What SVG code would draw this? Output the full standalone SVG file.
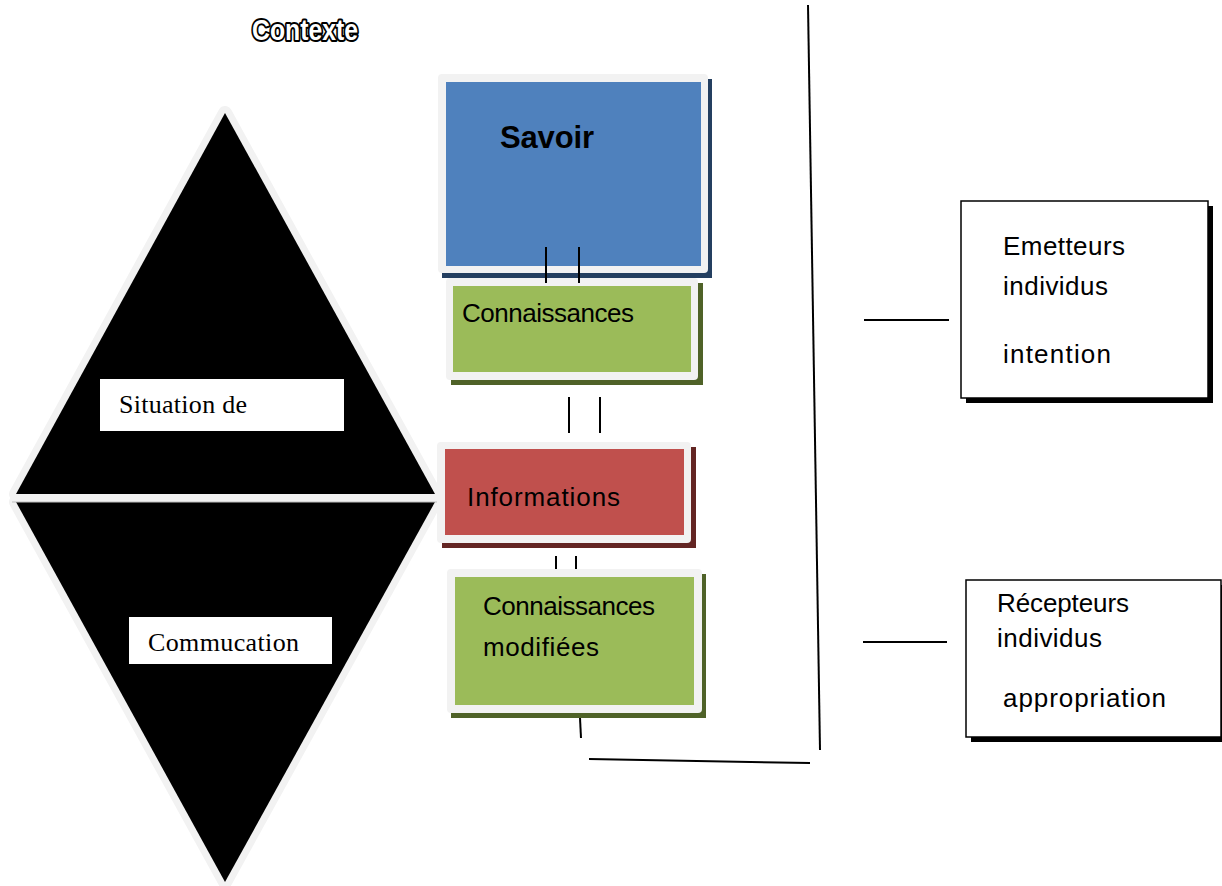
<svg xmlns="http://www.w3.org/2000/svg" width="1222" height="886" viewBox="0 0 1222 886">
<style>
.cal{font-family:"Liberation Sans",Arial,sans-serif;font-size:26px;fill:#000}
.tim{font-family:"Liberation Serif","Times New Roman",serif;font-size:26px;fill:#000}
.frame{fill:#f2f2f2}
.ln{stroke:#000;stroke-width:2;fill:none}
.tri-edge{fill:#f2f2f2;stroke:#f2f2f2;stroke-width:14;stroke-linejoin:round}
.rbox{fill:#fff;stroke:#000;stroke-width:1.5}
</style>
<rect width="1222" height="886" fill="#fff"/>
<g id="title">
<text x="252" y="40" font-family="Liberation Sans,Arial,sans-serif" font-weight="bold" font-size="29" fill="#fff" stroke="#000" stroke-width="4" paint-order="stroke" stroke-linejoin="round" textLength="106" lengthAdjust="spacingAndGlyphs">Contexte</text>
</g>
<g id="diamond">
<polygon class="tri-edge" points="225,113 16,494 435,494"/>
<polygon class="tri-edge" points="16,502 435,502 225,882"/>
<polygon points="225,113 16,494 435,494" fill="#000"/>
<polygon points="16,502 435,502 225,882" fill="#000"/>
<line x1="12" y1="502" x2="440" y2="502" stroke="#bfbfbf" stroke-width="1"/>
</g>
<g id="situation">
<rect x="100" y="379" width="244" height="52" fill="#fff"/>
<text class="tim" x="119" y="413" textLength="128">Situation de</text>
</g>
<g id="commucation">
<rect x="129" y="617" width="203" height="47" fill="#fff"/>
<text class="tim" x="148" y="651" textLength="151">Commucation</text>
</g>
<g id="savoir">
<rect x="442" y="79" width="270" height="199" fill="#243f60"/>
<rect class="frame" x="438" y="74" width="270" height="199" rx="4"/>
<rect x="446" y="82" width="255" height="184" fill="#4f81bd"/>
<text x="500" y="148" font-family="Liberation Sans,Arial,sans-serif" font-weight="bold" font-size="31" fill="#000" textLength="94">Savoir</text>
</g>
<g id="connaissances">
<rect x="451" y="283" width="252" height="102" fill="#4f6228"/>
<rect class="frame" x="446" y="278" width="252" height="102" rx="4"/>
<rect x="453" y="286" width="238" height="86" fill="#9bbb59"/>
<text class="cal" x="462" y="322" textLength="172">Connaissances</text>
</g>
<g id="informations">
<rect x="442" y="447" width="254" height="101" fill="#632523"/>
<rect class="frame" x="437" y="442" width="254" height="101" rx="4"/>
<rect x="445" y="449" width="239" height="86" fill="#c0504d"/>
<text class="cal" x="467" y="506" textLength="153">Informations</text>
</g>
<g id="connaissances-modifiees">
<rect x="451" y="574" width="255" height="144" fill="#4f6228"/>
<rect class="frame" x="447" y="569" width="255" height="144" rx="4"/>
<rect x="455" y="577" width="239" height="128" fill="#9bbb59"/>
<text class="cal" x="483" y="615" textLength="172">Connaissances</text>
<text class="cal" x="483" y="656" textLength="116">modifiées</text>
</g>
<g id="emetteurs">
<rect x="966" y="206" width="247" height="197" fill="#000"/>
<rect class="rbox" x="961" y="201" width="247" height="197"/>
<text class="cal" x="1003" y="255" textLength="122">Emetteurs</text>
<text class="cal" x="1003" y="295" textLength="105">individus</text>
<text class="cal" x="1003" y="363" textLength="108">intention</text>
</g>
<g id="recepteurs">
<rect x="971" y="585" width="255" height="157" fill="#000"/>
<rect class="rbox" x="966" y="580" width="255" height="157"/>
<text class="cal" x="997" y="612" textLength="132">Récepteurs</text>
<text class="cal" x="997" y="647" textLength="105">individus</text>
<text class="cal" x="1003" y="707" textLength="163">appropriation</text>
</g>
<g id="connectors">
<line class="ln" x1="546" y1="247" x2="546" y2="283"/>
<line class="ln" x1="579" y1="247" x2="579" y2="283"/>
<line class="ln" x1="569" y1="397" x2="569" y2="433"/>
<line class="ln" x1="600" y1="397" x2="600" y2="433"/>
<line class="ln" x1="556" y1="556" x2="556" y2="569"/>
<line class="ln" x1="576" y1="556" x2="576" y2="569"/>
<line class="ln" x1="580" y1="718" x2="581" y2="738"/>
<line class="ln" x1="589" y1="759" x2="810" y2="763"/>
<line class="ln" x1="808" y1="5" x2="820" y2="750"/>
<line class="ln" x1="864" y1="320" x2="949" y2="320" stroke-width="1.5"/>
<line class="ln" x1="863" y1="642" x2="947" y2="642" stroke-width="1.5"/>
</g>
</svg>
